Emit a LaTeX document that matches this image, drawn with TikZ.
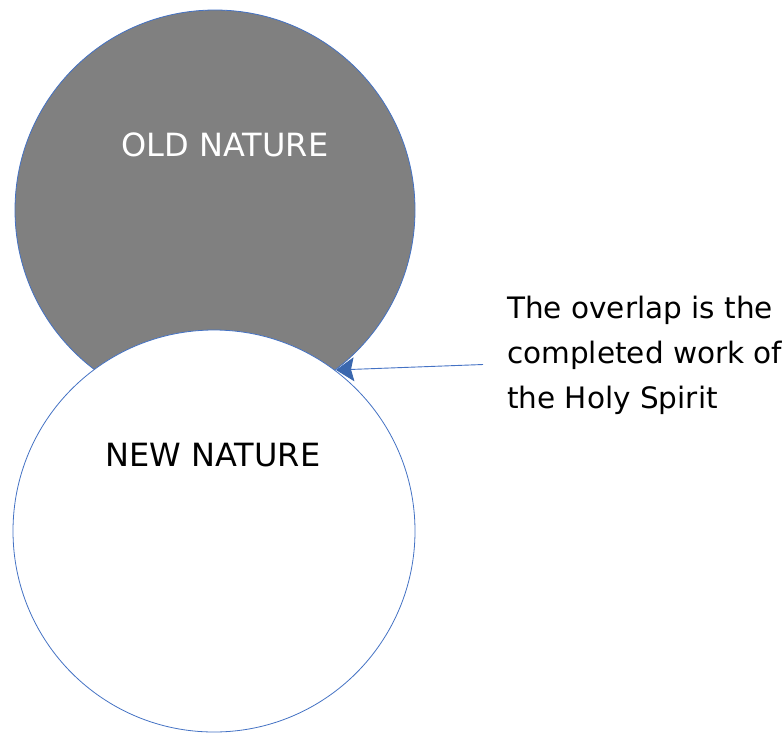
\documentclass[tikz,border=0pt]{standalone}
\usepackage{fontspec}
\setmainfont{DejaVu Sans}
\usetikzlibrary{arrows.meta}
\definecolor{edgeblue}{HTML}{4472C4}
\definecolor{headblue}{HTML}{3A67AE}
\definecolor{oldgrey}{HTML}{808080}
\tikzset{
  nature/.style={circle, draw=edgeblue, line width=0.8pt, inner sep=0pt},
  label28/.style={font=\fontsize{29.5}{45}\selectfont, inner sep=0pt},
  pointer/.style={draw=edgeblue, line width=0.9pt, -{Stealth[length=18pt,width=24pt,inset=3pt,color=headblue]}}
}
\begin{document}
\begin{tikzpicture}[x=1pt,y=-1pt]
\useasboundingbox (0,0) rectangle (784,732);
\node[nature, fill=oldgrey, minimum size=400pt] (old) at (215,210) {};
\node[nature, fill=white, minimum size=402pt] (new) at (214,531) {};
\node[text=white, font=\fontsize{32}{38}\selectfont, inner sep=0pt] (oldlbl) at (225,145) {OLD NATURE};
\node[text=black, font=\fontsize{32}{38}\selectfont, inner sep=0pt] (newlbl) at (213,455) {NEW NATURE};
\node[label28, align=left, anchor=base west] (note) at (507,408) {The overlap is the\\completed work of\\the Holy Spirit};
\coordinate (tail) at (483,364.5);
\coordinate (tip) at (336,370);
\draw[pointer] (tail) -- (tip);
\end{tikzpicture}
\end{document}
